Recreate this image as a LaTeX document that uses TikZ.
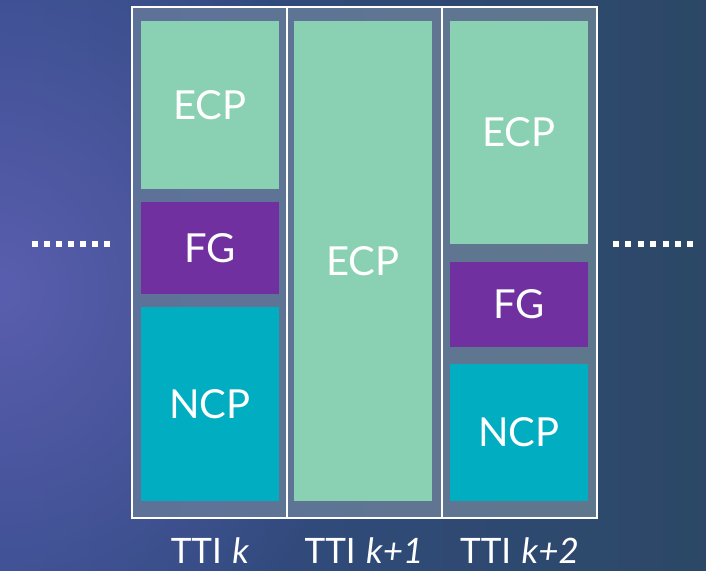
\documentclass[tikz,border=0pt]{standalone}
\usepackage{fontspec}
\setmainfont{Lato}
\usetikzlibrary{fadings}
\tikzfading[name=glowfade, inner color=transparent!0, outer color=transparent!100]
\definecolor{ecp}{HTML}{8AD1B3}
\definecolor{fg}{HTML}{7030A0}
\definecolor{ncp}{HTML}{01ADC1}
\definecolor{bgL}{HTML}{344C8A}
\definecolor{bgR}{HTML}{2C4866}
\definecolor{glow}{HTML}{5A5EAE}
\definecolor{panelL}{HTML}{5E7299}
\definecolor{panelR}{HTML}{5F778D}
\begin{document}
\begin{tikzpicture}[x=1pt,y=-1pt,
  blk/.style={inner sep=0pt, text=white, minimum width=138,
    font=\fontsize{40}{48}\selectfont},
  ttilabel/.style={inner sep=0pt, text=white, anchor=base,
    font=\fontsize{35}{42}\selectfont},
  dot/.style={fill=white}]
\useasboundingbox (0,0) rectangle (706,570);
\shade[left color=bgL, right color=bgR] (0,0) rectangle (706,570);
\fill[glow, path fading=glowfade, fit fading=true] (0,290) ellipse [x radius=380, y radius=420];
% frame
\node[draw=white, line width=2, left color=panelL, right color=panelR,
      inner sep=0pt, minimum width=465, minimum height=511] (frame) at (364.5,262.5) {};
\coordinate (d1t) at (287,7);
\coordinate (d1b) at (287,518);
\coordinate (d2t) at (442,7);
\coordinate (d2b) at (442,518);
\draw[white, line width=2] (d1t) -- (d1b);
\draw[white, line width=2] (d2t) -- (d2b);
% column 1
\node[blk, fill=ecp, minimum height=168] (ecp1) at (210,105) {ECP};
\node[blk, fill=fg, minimum height=92] (fg1) at (210,248) {FG};
\node[blk, fill=ncp, minimum height=194] (ncp1) at (210,404) {NCP};
% column 2
\node[blk, fill=ecp, minimum height=480] (ecp2) at (363,261) {ECP};
% column 3
\node[blk, fill=ecp, minimum height=223] (ecp3) at (519,132.5) {ECP};
\node[blk, fill=fg, minimum height=85] (fg3) at (519,304.5) {FG};
\node[blk, fill=ncp, minimum height=137] (ncp3) at (519,432.5) {NCP};
% labels
\node[ttilabel] (t1) at (210,563) {TTI\hspace{0.3em}\textit{k}};
\node[ttilabel] (t2) at (364,563) {TTI\hspace{0.3em}\textit{k+1}};
\node[ttilabel] (t3) at (519.5,563) {TTI\hspace{0.3em}\textit{k+2}};
% dots
\foreach \i in {0,...,6}{
  \fill[dot] (32+12*\i,241) rectangle ++(6,6);
  \fill[dot] (613+12.4*\i,241) rectangle ++(6,6);
}
\end{tikzpicture}
\end{document}
